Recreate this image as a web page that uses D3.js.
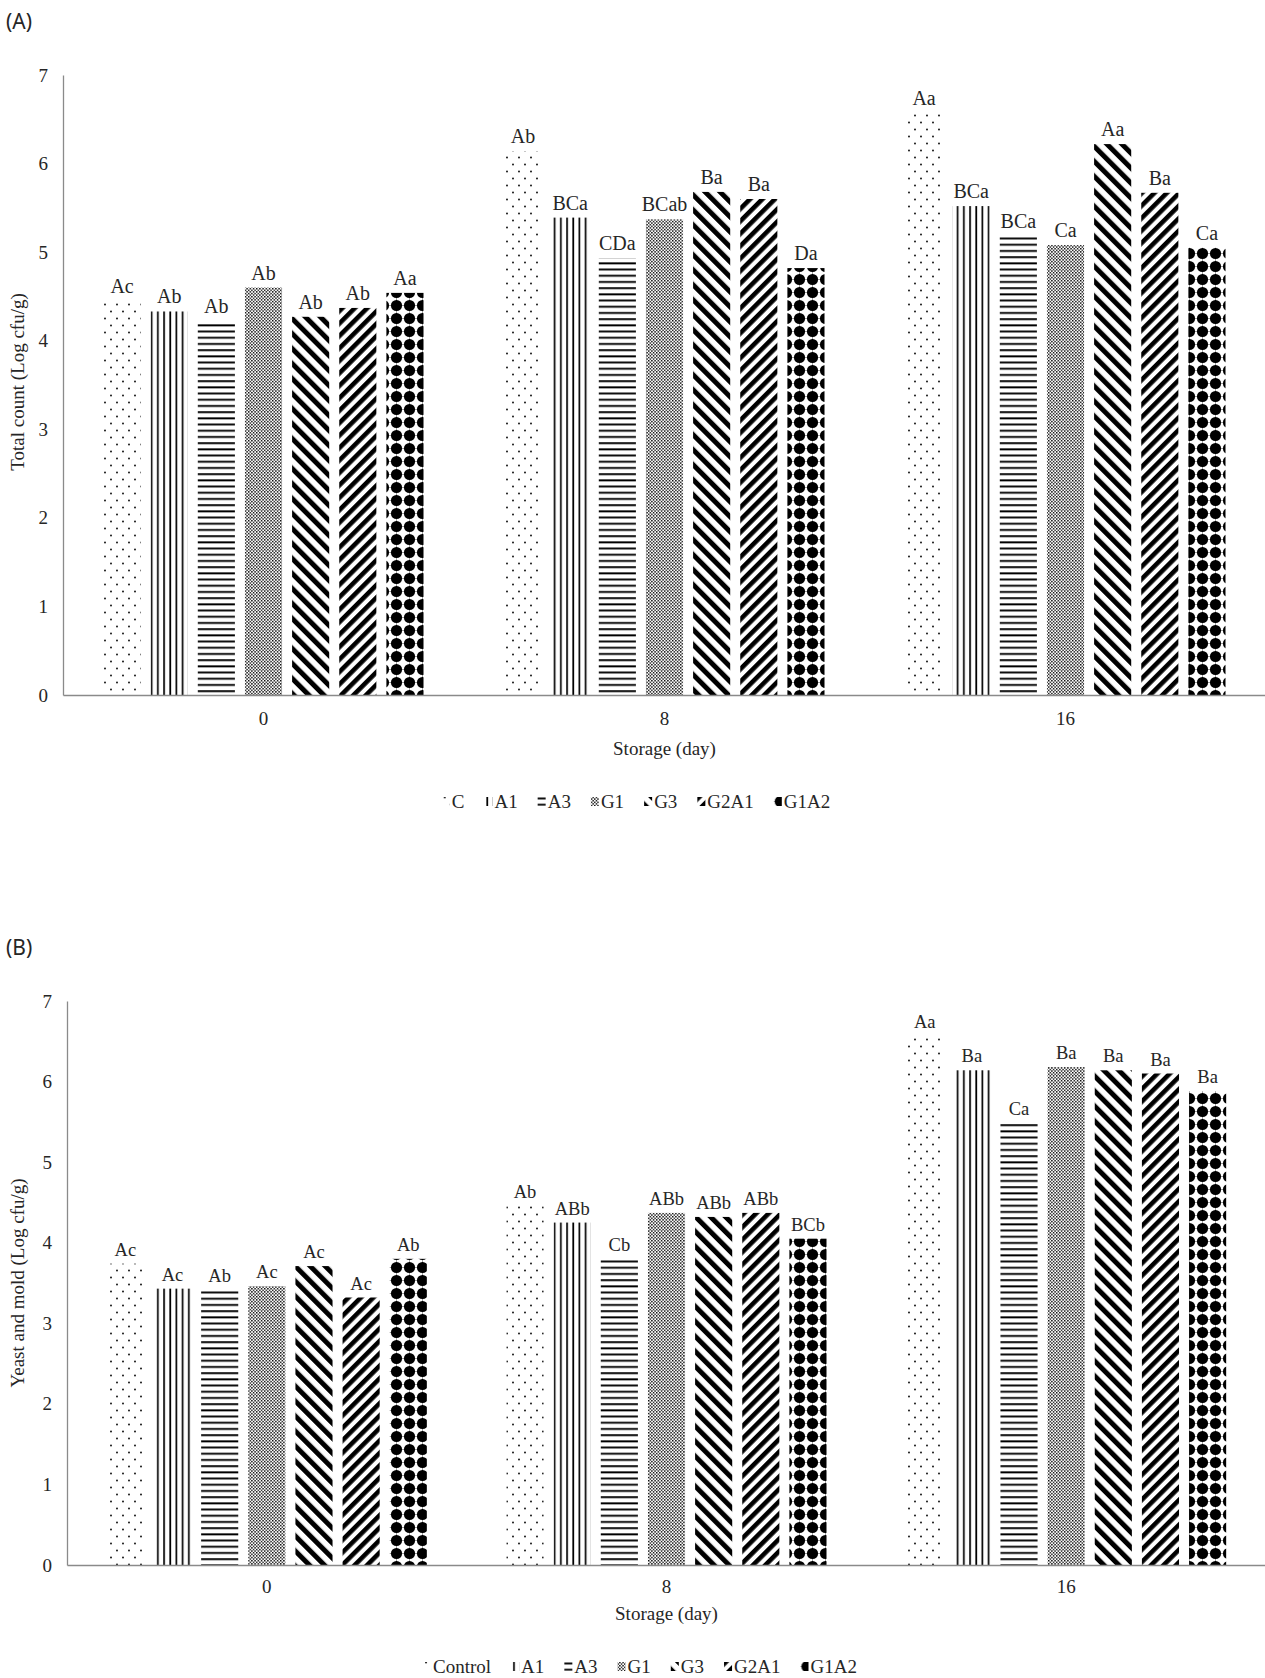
<!DOCTYPE html>
<html>
<head>
<meta charset="utf-8">
<script src="https://cdn.jsdelivr.net/npm/d3@7"></script>
<style>
  body { margin: 0; background: #fff; }
  svg { display: block; }
</style>
</head>
<body>
<svg id="fig" width="1265" height="1678"></svg>
<script>
// ---- data -------------------------------------------------------------
const days = ["0", "8", "16"];
const treatments = ["C", "A1", "A3", "G1", "G3", "G2A1", "G1A2"];
const legendNamesA = ["C", "A1", "A3", "G1", "G3", "G2A1", "G1A2"];
const legendNamesB = ["Control", "A1", "A3", "G1", "G3", "G2A1", "G1A2"];
const yTickValues = [0, 1, 2, 3, 4, 5, 6, 7];

// Total count (Log cfu/g) per treatment at day 0, 8, 16
const totalC    = [4.45, 6.14, 6.57];
const totalA1   = [4.33, 5.39, 5.52];
const totalA3   = [4.22, 4.93, 5.18];
const totalG1   = [4.60, 5.37, 5.08];
const totalG3   = [4.27, 5.68, 6.22];
const totalG2A1 = [4.37, 5.60, 5.67];
const totalG1A2 = [4.54, 4.82, 5.05];

// significance letters, per day, in treatment order
const totalLetters0  = ["Ac", "Ab", "Ab", "Ab", "Ab", "Ab", "Aa"];
const totalLetters8  = ["Ab", "BCa", "CDa", "BCab", "Ba", "Ba", "Da"];
const totalLetters16 = ["Aa", "BCa", "BCa", "Ca", "Aa", "Ba", "Ca"];

// Yeast and mold (Log cfu/g) per treatment at day 0, 8, 16
const yeastC    = [3.74, 4.46, 6.56];
const yeastA1   = [3.43, 4.25, 6.14];
const yeastA3   = [3.41, 3.80, 5.49];
const yeastG1   = [3.46, 4.37, 6.18];
const yeastG3   = [3.71, 4.32, 6.14];
const yeastG2A1 = [3.32, 4.37, 6.10];
const yeastG1A2 = [3.80, 4.05, 5.88];

const yeastLetters0  = ["Ac", "Ac", "Ab", "Ac", "Ac", "Ac", "Ab"];
const yeastLetters8  = ["Ab", "ABb", "Cb", "ABb", "ABb", "ABb", "BCb"];
const yeastLetters16 = ["Aa", "Ba", "Ca", "Ba", "Ba", "Ba", "Ba"];

// ---- helpers ----------------------------------------------------------
function buildRows(seriesArrays, letterArrays) {
  const rows = [];
  days.forEach((d, di) => {
    treatments.forEach((t, ti) => {
      rows.push({ day: d, treatment: t, value: seriesArrays[ti][di], letter: letterArrays[di][ti] });
    });
  });
  return rows;
}

const totalRows = buildRows(
  [totalC, totalA1, totalA3, totalG1, totalG3, totalG2A1, totalG1A2],
  [totalLetters0, totalLetters8, totalLetters16]
);
const yeastRows = buildRows(
  [yeastC, yeastA1, yeastA3, yeastG1, yeastG3, yeastG2A1, yeastG1A2],
  [yeastLetters0, yeastLetters8, yeastLetters16]
);

const svg = d3.select("#fig");
const defs = svg.append("defs");
const SERIF = "'Liberation Serif', 'Times New Roman', serif";
const SANS = "'Noto Sans', 'Open Sans', sans-serif";
const INK = "#262626";
const AXIS = "#8a8a8a";

// ---- fill patterns, one per treatment ----------------------------------
function pattern(id, w, h, transform) {
  const p = defs.append("pattern")
    .attr("id", id)
    .attr("patternUnits", "userSpaceOnUse")
    .attr("width", w).attr("height", h);
  if (transform) p.attr("patternTransform", transform);
  p.append("rect").attr("width", w).attr("height", h).attr("fill", "#fff");
  return p;
}
// C: sparse staggered dots
{
  const p = pattern("pat-C", 12, 14);
  p.append("circle").attr("cx", 3).attr("cy", 3.5).attr("r", 0.9).attr("fill", "#000");
  p.append("circle").attr("cx", 9).attr("cy", 10.5).attr("r", 0.9).attr("fill", "#000");
}
// A1: vertical lines
{
  const p = pattern("pat-A1", 6.2, 10);
  p.append("rect").attr("x", 2).attr("width", 1.7).attr("height", 10).attr("fill", "#000");
}
// A3: horizontal lines
{
  const p = pattern("pat-A3", 10, 6.2);
  p.append("rect").attr("y", 2).attr("height", 1.9).attr("width", 10).attr("fill", "#000");
}
// G1: fine stipple
{
  const p = pattern("pat-G1", 3.2, 3.2);
  p.append("rect").attr("x", 0).attr("y", 0).attr("width", 1.4).attr("height", 1.4).attr("fill", "#000");
  p.append("rect").attr("x", 1.6).attr("y", 1.6).attr("width", 1.4).attr("height", 1.4).attr("fill", "#000");
}
// G3: wide downward diagonal
{
  const p = pattern("pat-G3", 10.6, 10, "rotate(-45)");
  p.append("rect").attr("width", 5).attr("height", 10).attr("fill", "#000");
}
// G2A1: wide upward diagonal
{
  const p = pattern("pat-G2A1", 8.8, 10, "rotate(45)");
  p.append("rect").attr("width", 4.6).attr("height", 10).attr("fill", "#000");
}
// G1A2: large black blobs on a grid
{
  const p = pattern("pat-G1A2", 13, 13);
  p.append("circle").attr("cx", 6.5).attr("cy", 6.5).attr("r", 5.6).attr("fill", "#000");
  p.append("polygon").attr("points", "6.5,0 8.8,6.5 6.5,13 4.2,6.5").attr("fill", "#000");
  p.append("polygon").attr("points", "0,6.5 6.5,4.2 13,6.5 6.5,8.8").attr("fill", "#000");
}
const fillOf = t => `url(#pat-${t})`;

// ---- one grouped bar panel --------------------------------------------
function drawPanel(cfg) {
  const g = svg.append("g");

  const x0 = d3.scaleBand().domain(days).range(cfg.xRange).padding(0);
  const groupW = 320;
  const x1 = d3.scaleBand().domain(treatments)
    .range([(x0.bandwidth() - groupW) / 2, (x0.bandwidth() + groupW) / 2])
    .paddingInner(0.213);
  const y = d3.scaleLinear().domain([0, 7]).range(cfg.yRange);

  // bars
  g.append("g").selectAll("rect")
    .data(cfg.rows)
    .join("rect")
    .attr("x", d => x0(d.day) + x1(d.treatment))
    .attr("y", d => y(d.value))
    .attr("width", x1.bandwidth())
    .attr("height", d => y(0) - y(d.value))
    .attr("fill", d => fillOf(d.treatment));

  // letters above bars
  g.append("g").selectAll("text")
    .data(cfg.rows)
    .join("text")
    .attr("x", d => x0(d.day) + x1(d.treatment) + x1.bandwidth() / 2)
    .attr("y", d => y(d.value) - 8)
    .attr("text-anchor", "middle")
    .attr("font-family", SERIF)
    .attr("font-size", cfg.letterSize)
    .attr("fill", INK)
    .text(d => d.letter);

  // y axis
  const yAxis = g.append("g")
    .attr("transform", `translate(${cfg.xRange[0]},0)`)
    .call(d3.axisLeft(y).tickValues(yTickValues).tickFormat(d3.format("d"))
      .tickSize(0).tickSizeOuter(0).tickPadding(15));
  yAxis.select(".domain").attr("stroke", AXIS).attr("stroke-width", 1.3);
  yAxis.selectAll("text").attr("font-family", SERIF).attr("font-size", 19).attr("fill", INK);

  // x axis
  const xAxis = g.append("g")
    .attr("transform", `translate(0,${cfg.yRange[0]})`)
    .call(d3.axisBottom(x0).tickSize(0).tickSizeOuter(0).tickPadding(cfg.xTickPad));
  xAxis.select(".domain").attr("stroke", AXIS).attr("stroke-width", 1.3);
  xAxis.selectAll("text").attr("font-family", SERIF).attr("font-size", 19).attr("fill", INK);

  // axis titles
  g.append("text")
    .attr("x", (cfg.xRange[0] + cfg.xRange[1]) / 2)
    .attr("y", cfg.xTitleY)
    .attr("text-anchor", "middle")
    .attr("font-family", SERIF).attr("font-size", 19).attr("fill", INK)
    .text("Storage (day)");
  g.append("text")
    .attr("transform", `translate(24,${cfg.yTitleY}) rotate(-90)`)
    .attr("text-anchor", "middle")
    .attr("font-family", SERIF).attr("font-size", 19).attr("fill", INK)
    .text(cfg.yTitle);

  // panel tag
  g.append("text")
    .attr("x", 6).attr("y", cfg.tagY)
    .attr("font-family", SANS).attr("font-size", 21).attr("fill", INK)
    .text(cfg.tag);

  // legend
  const lg = g.append("g");
  let cx = 0;
  cfg.legendNames.forEach((name, i) => {
    const item = lg.append("g").attr("transform", `translate(${cx},0)`);
    item.append("rect")
      .attr("x", 0).attr("y", -11).attr("width", 8).attr("height", 9)
      .attr("fill", fillOf(treatments[i]));
    const t = item.append("text")
      .attr("x", 10).attr("y", 0)
      .attr("font-family", SERIF).attr("font-size", 19).attr("fill", INK)
      .text(name);
    cx += 10 + t.node().getComputedTextLength() + 20;
  });
  const legendW = cx - 20;
  lg.attr("transform", `translate(${cfg.legendCx - legendW / 2},${cfg.legendY})`);
}

drawPanel({
  rows: totalRows,
  xRange: [63, 1266],
  yRange: [695, 75],
  xTickPad: 17,
  xTitleY: 755,
  yTitle: "Total count (Log cfu/g)",
  yTitleY: 382,
  tag: "(A)",
  tagY: 29,
  letterSize: 20,
  legendNames: legendNamesA,
  legendCx: 636,
  legendY: 808
});

drawPanel({
  rows: yeastRows,
  xRange: [67, 1266],
  yRange: [1565, 1001],
  xTickPad: 15,
  xTitleY: 1620,
  yTitle: "Yeast and mold (Log cfu/g)",
  yTitleY: 1283,
  tag: "(B)",
  tagY: 955,
  letterSize: 18.5,
  legendNames: legendNamesB,
  legendCx: 640,
  legendY: 1673
});
</script>
</body>
</html>
